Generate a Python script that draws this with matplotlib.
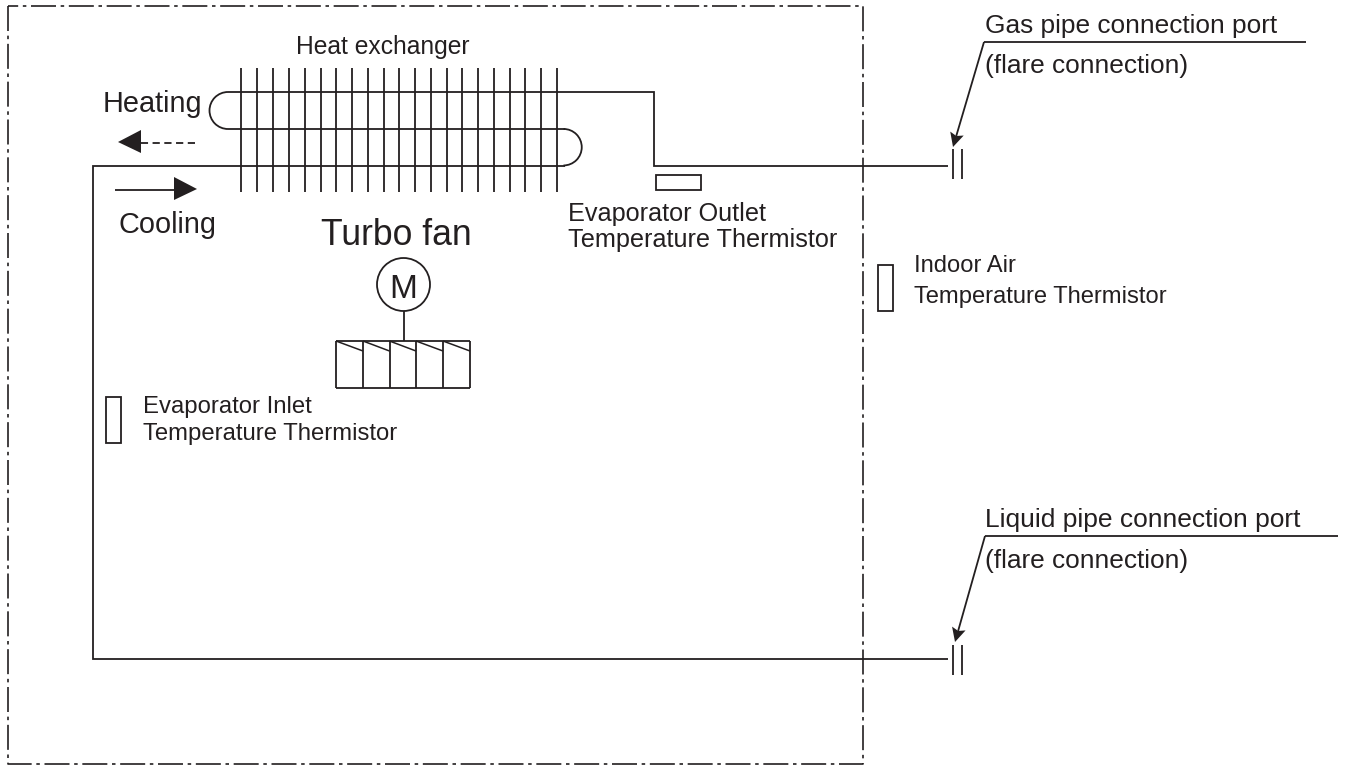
import math
import matplotlib
matplotlib.use("Agg")
import matplotlib.pyplot as plt
from matplotlib.patches import Arc, Circle, Rectangle

plt.rcParams['font.family'] = ['Liberation Sans', 'DejaVu Sans']
C = '#231f20'
LW = 1.3

fin_x = [241, 257, 273, 289, 304.7, 320.5, 336.3, 352, 367.8, 383.5, 399.3, 415,
         430.8, 446.6, 462.3, 478, 493.8, 509.6, 525.3, 541, 557]
fan_x = [336, 363, 389.5, 416, 443, 470]
labels = [
    ("Heat exchanger", 296, 54, 17.7),
    ("Heating", 103, 112, 20.8),
    ("Cooling", 118, 233, 20.8),
    ("Turbo fan", 321, 245, 25.6),
    ("Evaporator Outlet", 568, 221, 18.2),
    ("Temperature Thermistor", 568, 247, 18.2),
    ("Indoor Air", 914, 272, 17.1),
    ("Temperature Thermistor", 914, 303, 17.1),
    ("Evaporator Inlet", 143, 413, 17.2),
    ("Temperature Thermistor", 143, 440, 17.2),
    ("Gas pipe connection port", 985, 33, 18.9),
    ("(flare connection)", 985, 73, 18.9),
    ("Liquid pipe connection port", 985, 527, 19.0),
    ("(flare connection)", 985, 568, 18.9),
]

fig = plt.figure(figsize=(13.45, 7.65), dpi=100)
ax = fig.add_axes([0, 0, 1, 1])
ax.set_xlim(0, 1345)
ax.set_ylim(765, 0)
ax.axis('off')


def line(xs, ys, lw=LW, **kw):
    ax.plot(xs, ys, color=C, lw=lw, solid_capstyle='butt', solid_joinstyle='miter', **kw)


def barbed_leader(x0, y0, x1, y1, length=14, half=7, notch=2.5):
    d = math.hypot(x1 - x0, y1 - y0)
    ux, uy = (x1 - x0) / d, (y1 - y0) / d
    px, py = -uy, ux
    bx, by = x1 - ux * length, y1 - uy * length
    nx, ny = x1 - ux * (length - notch), y1 - uy * (length - notch)
    line([x0, nx], [y0, ny])
    ax.fill([x1, bx + px * half, nx, bx - px * half],
            [y1, by + py * half, ny, by - py * half], color=C, lw=0)


# outer dash-dot boundary
ax.plot([7.5, 7.5, 863, 863, 7.5], [5.5, 764, 764, 5.5, 5.5], color=C, lw=1.2,
        linestyle=(0, (15, 2.8, 2.1, 2.8)))

# fins
for x in fin_x:
    line([x, x], [68, 192])

# refrigerant circuit
line([948, 654, 654, 228], [165.5, 165.5, 92, 92])
line([228, 565], [129, 129])
line([565, 93, 93, 948], [165.5, 165.5, 659, 659])
ax.add_patch(Arc((228, 110.5), 37, 37, theta1=90, theta2=270, color=C, lw=LW))
ax.add_patch(Arc((563.5, 147.2), 36.5, 36.5, theta1=-90, theta2=90, color=C, lw=LW))

# connection ports
for y in (164, 660):
    line([952.5, 952.5], [y - 15, y + 15])
    line([962, 962], [y - 15, y + 15])

# leaders
line([1306, 984], [42, 42])
line([1338, 985], [536, 536])
barbed_leader(984, 42, 953, 147)
barbed_leader(985, 536, 955, 642)

# flow arrows
line([195, 141], [143, 143], linestyle=(0, (4, 2.5)))
line([115, 175], [190, 190])
ax.fill([118, 141, 141], [142, 130, 153], color=C, lw=0)
ax.fill([197, 174, 174], [189, 177, 200], color=C, lw=0)

# thermistors
ax.add_patch(Rectangle((656, 175), 45, 15, fc='none', ec=C, lw=LW))
ax.add_patch(Rectangle((878, 265), 15, 46, fc='none', ec=C, lw=LW))
ax.add_patch(Rectangle((106, 397), 15, 46, fc='none', ec=C, lw=LW))

# motor and fan
ax.add_patch(Circle((403.5, 284.5), 26.5, fc='none', ec=C, lw=LW))
line([403.5, 403.5], [311, 341])
line([fan_x[0], fan_x[-1]], [341, 341])
line([fan_x[0], fan_x[-1]], [388, 388])
for x in fan_x:
    line([x, x], [341, 388])
for a, b in zip(fan_x[:-1], fan_x[1:]):
    line([a, b], [341, 351], lw=1.1)

ax.text(403.5, 297.5, "M", fontsize=24, color=C, ha='center', va='baseline')
for text, x, y, size in labels:
    ax.text(x, y, text, fontsize=size, color=C, ha='left', va='baseline')

fig.savefig("out.png", dpi=100, facecolor='white')
